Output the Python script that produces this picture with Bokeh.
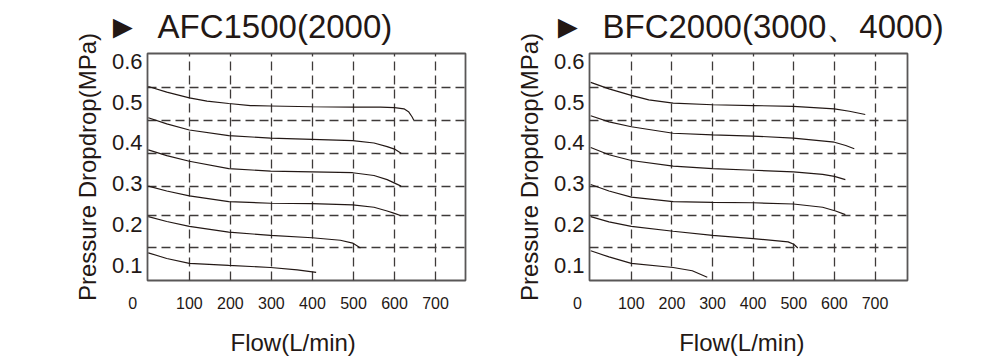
from bokeh.plotting import figure
from bokeh.layouts import row
from bokeh.models import FixedTicker, Range1d
from bokeh.embed import file_html
from bokeh.resources import INLINE

# ---------------- data ----------------
pressure_ticks = [0.1, 0.2, 0.3, 0.4, 0.5, 0.6]
flow_ticks = [0, 100, 200, 300, 400, 500, 600, 700]
flow_grid = [100, 200, 300, 400, 500, 600, 700]
grid_pressure = [0.142, 0.221, 0.294, 0.375, 0.456, 0.537]

# AFC1500(2000)
afc_flow_1 = [0, 45, 100, 143, 196, 249, 298, 399, 498, 566, 600, 623, 635, 643, 647]
afc_drop_1 = [0.539, 0.525, 0.511, 0.503, 0.497, 0.492, 0.491, 0.489, 0.488, 0.488, 0.487, 0.484, 0.476, 0.464, 0.456]
afc_flow_2 = [0, 45, 100, 196, 298, 399, 498, 550, 582, 600, 616]
afc_drop_2 = [0.462, 0.447, 0.432, 0.418, 0.412, 0.409, 0.406, 0.400, 0.391, 0.385, 0.375]
afc_flow_3 = [0, 45, 100, 196, 298, 399, 498, 550, 582, 616]
afc_drop_3 = [0.383, 0.369, 0.355, 0.337, 0.331, 0.329, 0.327, 0.320, 0.310, 0.294]
afc_flow_4 = [0, 45, 100, 196, 298, 399, 498, 550, 582, 600, 616]
afc_drop_4 = [0.294, 0.282, 0.270, 0.256, 0.252, 0.251, 0.248, 0.242, 0.233, 0.227, 0.221]
afc_flow_5 = [0, 45, 100, 196, 298, 399, 468, 498, 517]
afc_drop_5 = [0.219, 0.207, 0.195, 0.181, 0.173, 0.167, 0.161, 0.154, 0.142]
afc_flow_6 = [0, 45, 100, 196, 298, 363, 409]
afc_drop_6 = [0.130, 0.116, 0.104, 0.099, 0.094, 0.088, 0.082]

# BFC2000(3000、4000)
bfc_flow_1 = [0, 45, 100, 143, 203, 300, 400, 499, 600, 637, 676]
bfc_drop_1 = [0.549, 0.533, 0.517, 0.506, 0.498, 0.494, 0.492, 0.490, 0.484, 0.478, 0.470]
bfc_flow_2 = [0, 45, 100, 203, 300, 400, 499, 600, 628, 649]
bfc_drop_2 = [0.467, 0.452, 0.440, 0.424, 0.420, 0.417, 0.412, 0.402, 0.394, 0.386]
bfc_flow_3 = [0, 45, 100, 203, 300, 400, 499, 571, 600, 627]
bfc_drop_3 = [0.389, 0.371, 0.357, 0.343, 0.337, 0.333, 0.329, 0.323, 0.318, 0.310]
bfc_flow_4 = [0, 45, 100, 203, 300, 400, 499, 571, 603, 627]
bfc_drop_4 = [0.298, 0.282, 0.267, 0.256, 0.254, 0.253, 0.250, 0.242, 0.233, 0.224]
bfc_flow_5 = [0, 45, 100, 203, 300, 400, 486, 500, 510]
bfc_drop_5 = [0.219, 0.206, 0.195, 0.183, 0.173, 0.165, 0.157, 0.151, 0.142]
bfc_flow_6 = [0, 45, 100, 203, 250, 287]
bfc_drop_6 = [0.135, 0.120, 0.104, 0.094, 0.086, 0.070]

INK = "#231815"
FONT = "Liberation Sans"
NB = "\u00a0"


def make_chart(title, flows, drops, x_start, x_end, border_l, border_r,
               title_offset, zero_pad, xlabel_pad):
    p = figure(width=492, height=358, output_backend="svg", toolbar_location=None,
               x_range=Range1d(x_start, x_end), y_range=Range1d(0.062, 0.620),
               min_border_left=border_l, min_border_right=border_r,
               min_border_top=52, min_border_bottom=76)
    p.background_fill_color = "white"
    p.border_fill_color = "white"
    p.outline_line_color = "#595757"
    p.outline_line_width = 1.8

    for fx, dy in zip(flows, drops):
        p.line(fx, dy, line_color=INK, line_width=1.15)

    # title
    p.title.text = "►" + NB + NB + title
    p.title.align = "left"
    p.title.vertical_align = "top"
    p.title.offset = title_offset
    p.title.text_font = FONT
    p.title.text_font_size = "33px"
    p.title.text_font_style = "normal"
    p.title.text_color = INK
    p.title.standoff = 14

    # axes
    p.xaxis.ticker = FixedTicker(ticks=flow_ticks)
    p.xaxis.major_label_overrides = {0: "0" + NB * zero_pad}
    p.yaxis.ticker = FixedTicker(ticks=pressure_ticks)
    for ax in (p.xaxis, p.yaxis):
        ax.axis_line_color = None
        ax.major_tick_line_color = None
        ax.minor_tick_line_color = None
        ax.major_tick_out = 0
        ax.major_tick_in = 0
        ax.minor_tick_out = 0
        ax.minor_tick_in = 0
        ax.major_label_text_color = INK
        ax.major_label_text_font = FONT
        ax.axis_label_text_font = FONT
        ax.axis_label_text_font_size = "24px"
        ax.axis_label_text_font_style = "normal"
        ax.axis_label_text_color = INK
    p.xaxis.major_label_text_font_size = "16px"
    p.xaxis.major_label_standoff = 14
    p.xaxis.axis_label = "Flow(L/min)" + NB * xlabel_pad
    p.xaxis.axis_label_standoff = 14
    p.yaxis.major_label_text_font_size = "22px"
    p.yaxis.major_label_standoff = 5
    p.yaxis.axis_label = "Pressure Dropdrop(MPa)"
    p.yaxis.axis_label_standoff = 8

    # grid
    p.xgrid.ticker = FixedTicker(ticks=flow_grid)
    p.ygrid.ticker = FixedTicker(ticks=grid_pressure)
    for g in (p.xgrid, p.ygrid):
        g.grid_line_color = "#3e3a39"
        g.grid_line_width = 1.3
        g.grid_line_dash = "9 5"
    return p


p1 = make_chart("AFC1500(2000)",
                [afc_flow_1, afc_flow_2, afc_flow_3, afc_flow_4, afc_flow_5, afc_flow_6],
                [afc_drop_1, afc_drop_2, afc_drop_3, afc_drop_4, afc_drop_5, afc_drop_6],
                -2, 773, 147, 27, -41, 7, 4)
p2 = make_chart("BFC2000(3000、4000)",
                [bfc_flow_1, bfc_flow_2, bfc_flow_3, bfc_flow_4, bfc_flow_5, bfc_flow_6],
                [bfc_drop_1, bfc_drop_2, bfc_drop_3, bfc_drop_4, bfc_drop_5, bfc_drop_6],
                -3, 780, 97, 77, -38, 6, 2)

layout = row(p1, p2)
open("out.html", "w").write(file_html(layout, INLINE))
